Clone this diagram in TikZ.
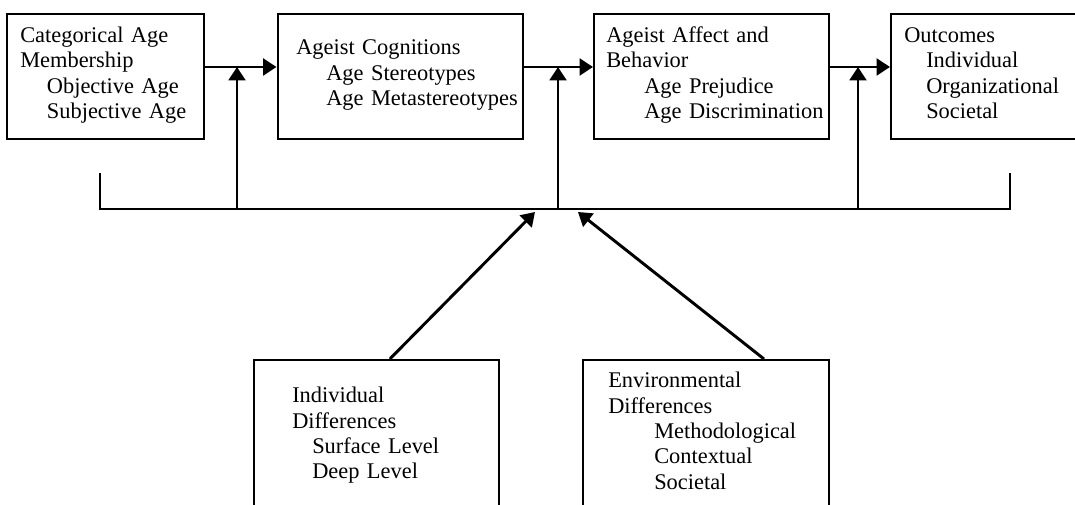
\documentclass[tikz,border=0pt]{standalone}
\usepackage{fontspec}
\setmainfont{Liberation Serif}
\usetikzlibrary{arrows.meta}
\begin{document}
\begin{tikzpicture}[x=0.75pt, y=-0.75pt,
  caja/.style={draw, line width=1.5pt, rectangle, inner sep=0pt, anchor=north west},
  texto/.style={anchor=base west, inner sep=0pt, align=left, text width=200pt,
    font=\fontsize{16.8}{19}\selectfont},
  flecha/.style={line width=2.2pt, -{Triangle[length=10pt, width=12.5pt]}},
  barra/.style={line width=2.2pt}]
  \useasboundingbox (0,0) rectangle (1075,505);
  % las cajas de arriba
  \node[caja, minimum width=147.75pt, minimum height=93.75pt] (cat) at (6,13) {};
  \node[caja, minimum width=184.1pt, minimum height=93.75pt] (cog) at (276.5,13) {};
  \node[caja, minimum width=176.25pt, minimum height=93.75pt] (aff) at (593,13) {};
  \node[caja, minimum width=146.25pt, minimum height=93.75pt] (out) at (890,13) {};
  % las cajas de abajo, cortadas por el borde
  \node[caja, minimum width=183.75pt, minimum height=117pt] (ind) at (253,359) {};
  \node[caja, minimum width=184.5pt, minimum height=117pt] (env) at (582,359) {};
  % los textos
  \node[texto] (catT) at ([shift={(14,29.5)}]cat.north west)
    {Categorical Age\\Membership\\\hspace*{20pt}Objective Age\\\hspace*{20pt}Subjective Age};
  \node[texto] (cogT) at ([shift={(19.5,42)}]cog.north west)
    {Ageist Cognitions\\\hspace*{22.5pt}Age Stereotypes\\\hspace*{22.5pt}Age Metastereotypes};
  \node[texto] (affT) at ([shift={(13,29.5)}]aff.north west)
    {Ageist Affect and\\Behavior\\\hspace*{28.5pt}Age Prejudice\\\hspace*{28.5pt}Age Discrimination};
  \node[texto] (outT) at ([shift={(14,29.5)}]out.north west)
    {Outcomes\\\hspace*{16.5pt}Individual\\\hspace*{16.5pt}Organizational\\\hspace*{16.5pt}Societal};
  \node[texto] (indT) at ([shift={(39,44)}]ind.north west)
    {Individual\\Differences\\\hspace*{15pt}Surface Level\\\hspace*{15pt}Deep Level};
  \node[texto] (envT) at ([shift={(26,29)}]env.north west)
    {Environmental\\Differences\\\hspace*{34.5pt}Methodological\\\hspace*{34.5pt}Contextual\\\hspace*{34.5pt}Societal};
  % la cadena de flechas
  \coordinate (carril) at (0,67);
  \draw[flecha] (cat.east |- carril) -- (cog.west |- carril);
  \draw[flecha] (cog.east |- carril) -- (aff.west |- carril);
  \draw[flecha] (aff.east |- carril) -- (out.west |- carril);
  % la barra que modera
  \coordinate (bi) at (100,173);
  \coordinate (bd) at (1010,173);
  \coordinate (j1) at (237,209);
  \coordinate (j2) at (558,209);
  \coordinate (j3) at (858,209);
  \draw[barra] (bi) -- (bi |- j1) -- (bd |- j1) -- (bd);
  \draw[flecha] (j1) -- (j1 |- carril);
  \draw[flecha] (j2) -- (j2 |- carril);
  \draw[flecha] (j3) -- (j3 |- carril);
  % las diferencias suben a la barra
  \coordinate (puntaI) at (535,212);
  \coordinate (puntaD) at (578,212);
  \draw[flecha] ([xshift=10pt]ind.north) -- (puntaI);
  \draw[flecha] ([xshift=43.5pt]env.north) -- (puntaD);
\end{tikzpicture}
\end{document}
